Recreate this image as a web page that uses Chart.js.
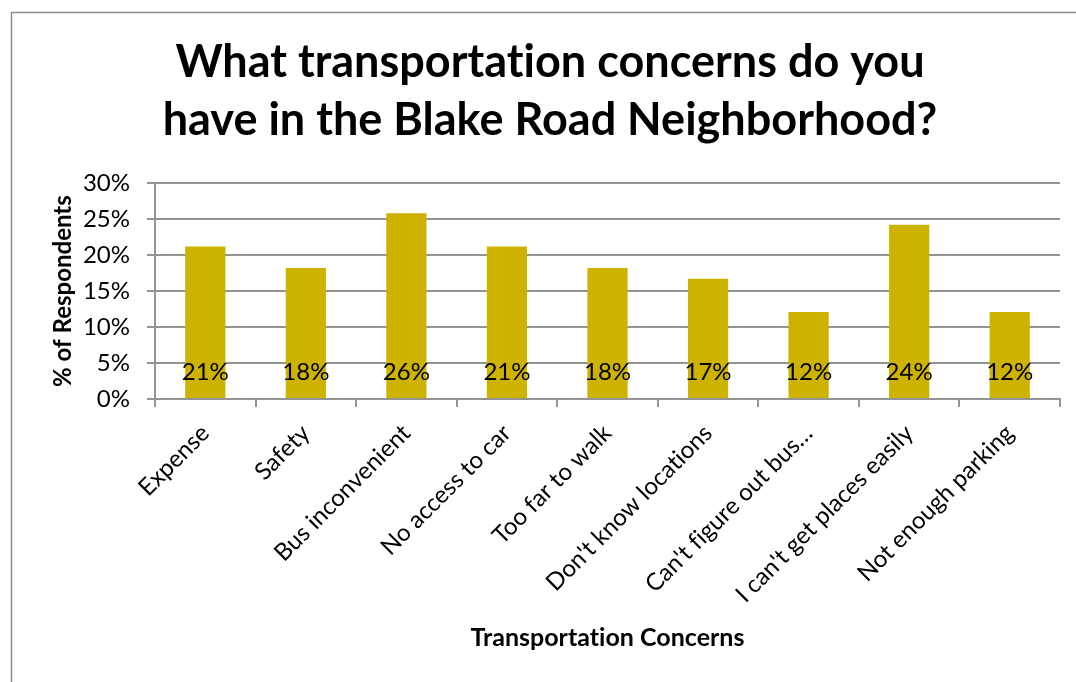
<!DOCTYPE html>
<html>
<head>
<meta charset="utf-8">
<script src="https://cdn.jsdelivr.net/npm/chart.js@4"></script>
<style>
  html, body { margin: 0; padding: 0; background: #fff; overflow: hidden; }
  #wrap { width: 1076px; height: 682px; }
</style>
</head>
<body>
<div id="wrap"><canvas id="chart" width="1076" height="682"></canvas></div>
<script>
// Survey results: share of respondents naming each transportation concern
const titleLines = ['What transportation concerns do you', 'have in the Blake Road Neighborhood?'];
const categories = [
  'Expense',
  'Safety',
  'Bus inconvenient',
  'No access to car',
  'Too far to walk',
  "Don't know locations",
  "Can't figure out bus\u2026",
  "I can't get places easily",
  'Not enough parking'
];
const shares = [21.2, 18.2, 25.8, 21.2, 18.2, 16.7, 12.1, 24.2, 12.1];
const yTickValues = [0, 5, 10, 15, 20, 25, 30];
const yAxisTitle = '% of Respondents';
const xAxisTitle = 'Transportation Concerns';

const FONT = 'Lato';
const LINE = '#939393';
const BAR = '#CDB300';

// White page with a thin grey frame; plain letter shapes (no "ti" ligature)
const framePlugin = {
  id: 'frame',
  beforeDraw(chart) {
    const ctx = chart.ctx;
    ctx.save();
    ctx.fillStyle = '#ffffff';
    ctx.fillRect(0, 0, chart.width, chart.height);
    ctx.strokeStyle = '#8c8c8c';
    ctx.lineWidth = 1.5;
    ctx.strokeRect(11.5, 12.5, chart.width + 40, chart.height + 40);
    ctx.restore();
    ctx.letterSpacing = '0.01px';
    ctx.textRendering = 'optimizeSpeed';
  }
};

// Value labels sitting just above the base of each bar
const baseLabelPlugin = {
  id: 'baseLabels',
  afterDatasetsDraw(chart) {
    const ctx = chart.ctx;
    const meta = chart.getDatasetMeta(0);
    const y0 = chart.scales.y.getPixelForValue(0);
    ctx.save();
    ctx.font = '24px ' + FONT;
    ctx.fillStyle = '#000';
    ctx.textAlign = 'center';
    ctx.textBaseline = 'alphabetic';
    meta.data.forEach((bar, i) => {
      ctx.fillText(Math.round(shares[i]) + '%', bar.x, y0 - 19);
    });
    ctx.restore();
  }
};

new Chart(document.getElementById('chart'), {
  type: 'bar',
  data: {
    labels: categories,
    datasets: [{
      data: shares,
      backgroundColor: BAR,
      borderWidth: 0,
      categoryPercentage: 1.0,
      barPercentage: 0.4
    }]
  },
  options: {
    responsive: false,
    animation: false,
    devicePixelRatio: 1,
    layout: { padding: { left: 40, top: 13, right: 16, bottom: 0 } },
    plugins: {
      legend: { display: false },
      tooltip: { enabled: false },
      title: {
        display: true,
        text: titleLines,
        color: '#000',
        font: { family: FONT, size: 45, weight: 'bold', lineHeight: 1.29 },
        padding: { top: 20, bottom: 34 }
      }
    },
    scales: {
      x: {
        afterFit(scale) { scale.height = 682 - 399; },
        grid: {
          drawOnChartArea: false,
          drawTicks: true,
          tickLength: 8,
          color: LINE,
          lineWidth: 2,
          offset: true
        },
        border: { color: LINE, width: 2 },
        ticks: {
          autoSkip: false,
          minRotation: 45,
          maxRotation: 45,
          color: '#000',
          font: { family: FONT, size: 24 },
          padding: 12
        },
        title: {
          display: true,
          text: xAxisTitle,
          color: '#000',
          font: { family: FONT, size: 25, weight: 'bold' },
          padding: { top: 0, bottom: 29 }
        }
      },
      y: {
        min: 0,
        max: 30,
        afterFit(scale) { scale.width = 155 - 40; },
        afterBuildTicks(scale) { scale.ticks = yTickValues.map(v => ({ value: v })); },
        grid: { color: LINE, lineWidth: 2, tickLength: 8, drawTicks: true },
        border: { color: LINE, width: 2 },
        ticks: {
          color: '#000',
          font: { family: FONT, size: 24 },
          padding: 17,
          callback: v => v + '%'
        },
        title: {
          display: true,
          text: yAxisTitle,
          color: '#000',
          font: { family: FONT, size: 24, weight: 'bold' },
          padding: { top: 9, bottom: 0 }
        }
      }
    }
  },
  plugins: [framePlugin, baseLabelPlugin]
});
</script>
</body>
</html>
